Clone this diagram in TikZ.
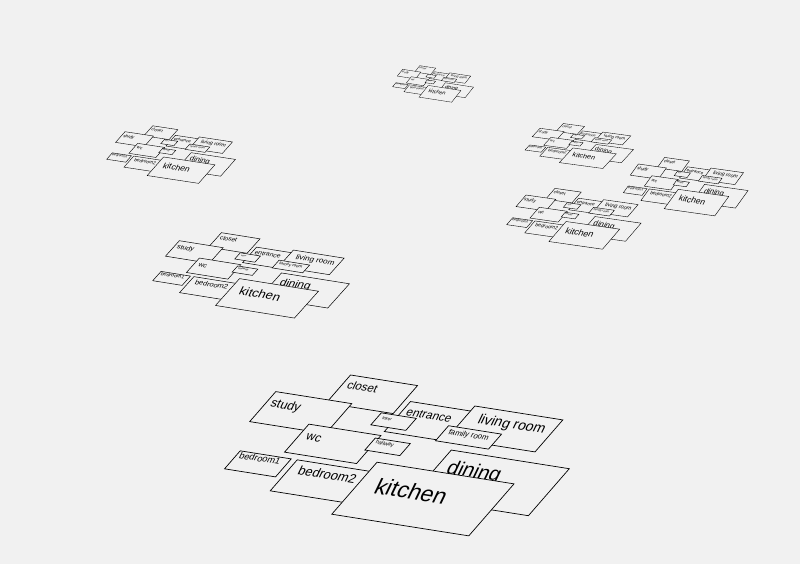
\documentclass[tikz,border=0pt]{standalone}
\usepackage{fontspec}
\setmainfont{Liberation Sans}
\definecolor{paper}{gray}{0.945}
\tikzset{%
    room/.style={draw=black, fill=paper, line width=0.7pt, line join=miter},
    lbl/.style={inner sep=0pt, anchor=base west, rotate=-9, xslant=0.3}
}
% one copy of the plan, in plan units (y down is negative)
\newcommand{\floorplan}{%
    \filldraw[room] (55,-1) rectangle (122,-29);
    \node[lbl, font=\fontsize{11.4}{12}\selectfont] (closet) at (61,-13.3) {closet};
    \filldraw[room] (2,-26) rectangle (78,-56);
    \node[lbl, font=\fontsize{12.4}{13}\selectfont] (study) at (7.9,-40.2) {study};
    \filldraw[room] (56,-50) rectangle (128,-78);
    \node[lbl, font=\fontsize{12}{13}\selectfont] (wc) at (64.6,-64.4) {wc};
    \filldraw[room] (128,-16) rectangle (200,-46);
    \node[lbl, font=\fontsize{11.6}{12}\selectfont] (entrance) at (133.5,-28.6) {entrance};
    \filldraw[room] (111,-30) rectangle (146,-42);
    \node[lbl, font=\fontsize{4.2}{5}\selectfont] (foyer) at (116.3,-35.6) {foyer};
    \filldraw[room] (125,-53) rectangle (160,-65);
    \node[lbl, font=\fontsize{5.4}{6}\selectfont] (hallway) at (129.3,-58.2) {hallway};
    \filldraw[room] (188,-11) rectangle (276,-43);
    \node[lbl, font=\fontsize{13.9}{14}\selectfont] (living) at (202.8,-25.9) {living room};
    \filldraw[room] (180,-32) rectangle (233,-47);
    \node[lbl, font=\fontsize{7.8}{8}\selectfont] (family) at (185.6,-39.5) {family room};
    \filldraw[room] (16,-83) rectangle (67,-101);
    \node[lbl, font=\fontsize{9.1}{10}\selectfont] (bedroomA) at (20,-89.8) {bedroom1};
    \filldraw[room] (73,-83) rectangle (149,-114);
    \node[lbl, font=\fontsize{12.8}{13}\selectfont] (bedroomB) at (83.6,-95.7) {bedroom2};
    \filldraw[room] (201,-53) rectangle (319,-100);
    \node[lbl, font=\fontsize{20}{20}\selectfont] (dining) at (213.2,-74.3) {dining};
    \filldraw[room] (145,-74) rectangle (282,-126);
    \node[lbl, font=\fontsize{22.5}{23}\selectfont] (kitchen) at (164.5,-101.8) {kitchen};
}

\begin{document}
\begin{tikzpicture}[x=1pt, y=1pt]
    \fill[paper] (0,0) rectangle (800,-564);
    \useasboundingbox (0,0) rectangle (800,-564);

    % far copies
    \begin{scope}[name prefix=top-, cm={0.2386,-0.037,0.1778,0.2251,(406.8,-63.4)},
        lbl/.append style={xscale=0.24, yscale=0.225}, room/.append style={line width=0.3pt}]
        \floorplan
    \end{scope}
    \begin{scope}[name prefix=left-, cm={0.375,-0.057,0.314,0.357,(132.4,-122.3)},
        lbl/.append style={xscale=0.375, yscale=0.357}, room/.append style={line width=0.4pt}]
        \floorplan
    \end{scope}
    \begin{scope}[name prefix=right-, cm={0.317,-0.043,0.2592,0.2814,(546.1,-120.9)},
        lbl/.append style={xscale=0.317, yscale=0.281}, room/.append style={line width=0.35pt}]
        \floorplan
    \end{scope}
    \begin{scope}[name prefix=rightb-, cm={0.369,-0.052,0.2688,0.3729,(644.6,-154.2)},
        lbl/.append style={xscale=0.369, yscale=0.369}, room/.append style={line width=0.4pt}]
        \floorplan
    \end{scope}
    \begin{scope}[name prefix=mid-, cm={0.391,-0.056,0.33,0.385,(533.8,-184.9)},
        lbl/.append style={xscale=0.391, yscale=0.385}, room/.append style={line width=0.4pt}]
        \floorplan
    \end{scope}
    \begin{scope}[name prefix=near-, cm={0.576,-0.092,0.462,0.516,(190.2,-227.1)},
        lbl/.append style={xscale=0.576, yscale=0.516}, room/.append style={line width=0.5pt}]
        \floorplan
    \end{scope}

    % front copy
    \begin{scope}[name prefix=front-, cm={1,-0.158,0.87,1,(296.4,-365.3)}]
        \floorplan
    \end{scope}
\end{tikzpicture}
\end{document}
